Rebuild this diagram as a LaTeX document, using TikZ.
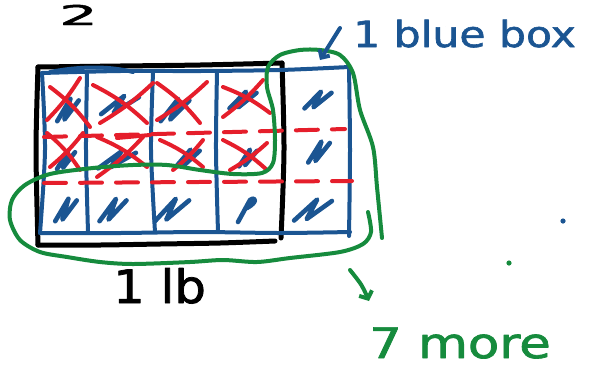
\documentclass[tikz,border=0pt]{standalone}
\usepackage{fontspec}
\newfontfamily\hand[FakeBold=1.6]{DejaVu Sans}
\usetikzlibrary{arrows.meta}
\definecolor{pblue}{HTML}{1B5592}
\definecolor{pred}{HTML}{E51E2B}
\definecolor{pgreen}{HTML}{168B3D}
\begin{document}
\begin{tikzpicture}[x=1pt,y=-1pt, line cap=round, line join=round,
  blk/.style={draw=black, line width=5pt},
  blu/.style={draw=pblue, line width=4pt},
  rd/.style={draw=pred, line width=4pt},
  rdash/.style={rd, dash pattern=on 22pt off 14pt},
  grn/.style={draw=pgreen, line width=4pt},
  lbl/.style={inner sep=0pt, font=\hand},
  scrib/.pic={\draw[blu, line width=4.6pt] (-9,7) -- (2,-7) -- (-3,6) -- (9,-6);}]
\useasboundingbox (0,0) rectangle (589,384);

% black outer rectangle
\draw[blk] plot[smooth] coordinates {(38,67) (120,66) (200,65) (282,63)};
\draw[blk] plot[smooth] coordinates {(38,67) (36,150) (38,245)};
\draw[blk] plot[smooth] coordinates {(38,245) (100,245) (160,244) (220,243) (275,241)};
\draw[blk] plot[smooth] coordinates {(282,63) (284,150) (281,238)};

% blue grid
\draw[blu] plot[smooth] coordinates {(42,73) (120,71) (200,71) (280,70) (349,67)};
\draw[blu] (50,72) .. controls (80,66) and (110,66) .. (133,72);
\draw[blu] plot[smooth] coordinates {(349,67) (350,150) (349,236)};
\draw[blu] plot[smooth] coordinates {(40,233) (120,233) (200,232) (280,233) (350,232)};
\draw[blu] plot[smooth] coordinates {(42,73) (45,150) (40,233)};
\draw[blu] plot[smooth] coordinates {(87,74) (86,150) (88,232)};
\draw[blu] plot[smooth] coordinates {(153,73) (151,150) (155,232)};
\draw[blu] plot[smooth] coordinates {(217,72) (216,150) (218,232)};

% blue scribbles
\pic[xscale=1.2,yscale=1.6] at (68,110) {scrib};
\pic[xscale=2.1,yscale=1.3] at (120,105) {scrib};
\pic[xscale=1.6,yscale=1.6] at (175,110) {scrib};
\pic[xscale=1.5,yscale=1.2] at (243,100) {scrib};
\pic[xscale=1.5,yscale=1.2] at (318,100) {scrib};
\pic[xscale=1.0,yscale=1.3] at (66,160) {scrib};
\pic[xscale=2.1,yscale=1.2] at (117,160) {scrib};
\pic[xscale=1.3,yscale=1.2] at (188,158) {scrib};
\pic[xscale=1.0,yscale=1.2] at (248,158) {scrib};
\pic[xscale=1.2,yscale=1.5] at (319,152) {scrib};
\pic[xscale=1.2,yscale=1.6] at (66,210) {scrib};
\pic[xscale=1.5,yscale=1.6] at (113,210) {scrib};
\pic[xscale=1.9,yscale=1.6] at (172,210) {scrib};
\draw[blu, line width=4.6pt] (238,222) -- (250,200) .. controls (256,196) and (258,202) .. (247,208);
\pic[xscale=2.1,yscale=1.5] at (313,210) {scrib};

% red crosses
\draw[rd] (50,87) to[bend left=8] (90,127);  \draw[rd] (80,78) to[bend left=6] (47,120);
\draw[rd] (93,85) to[bend left=8] (147,123); \draw[rd] (153,83) to[bend left=6] (100,123);
\draw[rd] (157,83) to[bend left=8] (200,123); \draw[rd] (207,82) to[bend left=6] (157,120);
\draw[rd] (223,87) to[bend left=8] (270,113); \draw[rd] (263,80) to[bend left=6] (223,117);
\draw[rd] (47,133) to[bend left=8] (80,170);  \draw[rd] (83,133) to[bend left=6] (50,167);
\draw[rd] (97,137) to[bend left=8] (147,167); \draw[rd] (143,137) to[bend left=6] (97,177);
\draw[rd] (117,138) -- (150,135);
\draw[rd] (160,140) to[bend left=8] (203,167); \draw[rd] (203,140) to[bend left=6] (173,170);
\draw[rd] (223,140) to[bend left=8] (267,170); \draw[rd] (267,143) to[bend left=6] (230,170);

% red dashed lines
\draw[rdash] (44,137) -- (345,129);
\draw[rdash] (44,183) -- (352,181);

% green loop
\draw[grn] plot[smooth] coordinates {(368,212) (371,232) (363,244) (340,252) (290,258) (257,262) (223,260) (190,262) (133,264) (100,262) (67,257) (40,252) (20,240) (10,220) (12,200) (25,185) (50,174) (93,168) (133,165) (167,165) (200,170) (233,174) (262,173) (273,163) (275,140) (273,110) (267,87) (268,67) (280,55) (300,50) (320,50) (340,55) (353,73) (360,110) (373,147) (377,187) (382,238)};

% labels
\node[lbl, anchor=base west] (two) at (59,25) {\fontsize{32}{32}\selectfont\scalebox{1.9}[0.85]{2}};
\node[lbl, anchor=base west] (lb) at (113,303) {\fontsize{46}{46}\selectfont\scalebox{1.08}[1]{1 lb}};
\node[lbl, anchor=base west, text=pblue] (bluebox) at (353,47) {\fontsize{36}{36}\selectfont\scalebox{1.18}[1]{1 blue box}};
\node[lbl, anchor=base west, text=pgreen] (more) at (369,358) {\fontsize{42}{42}\selectfont\scalebox{1.22}[1]{7 more}};

% arrows
\coordinate (bstart) at (340,28);
\coordinate (btip) at (320,60);
\draw[blu, -{Straight Barb[length=6pt,width=12pt]}] (bstart) -- (btip);
\coordinate (gstart) at (350,270);
\coordinate (gtip) at (369,301);
\draw[grn, -{Straight Barb[length=6pt,width=14pt]}] (gstart) .. controls (362,285) .. (gtip);

% dots
\fill[pblue] (563,221) circle (2.6pt);
\fill[pgreen] (509,263) circle (2.6pt);
\end{tikzpicture}
\end{document}
